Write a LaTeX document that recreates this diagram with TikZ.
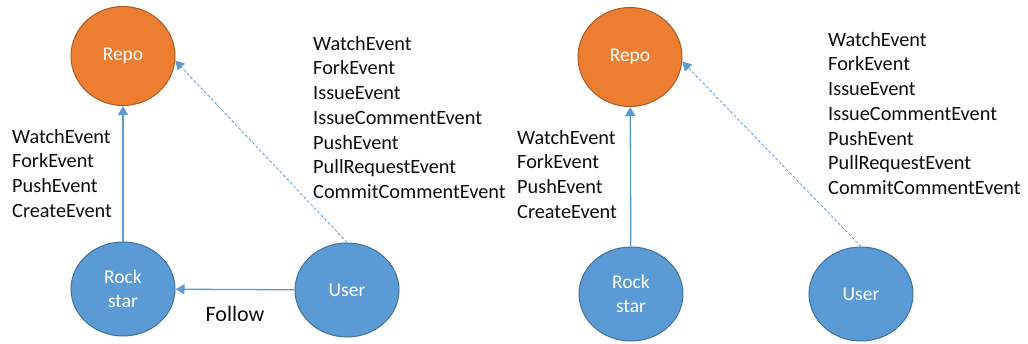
\documentclass[tikz,border=0pt]{standalone}
\usepackage{fontspec}
\setmainfont{Carlito}
\usepackage{tikz}
\usepackage{xcolor}
\usetikzlibrary{arrows.meta, shapes.geometric, positioning}
\definecolor{offorange}{HTML}{ED7D31}
\definecolor{offorangedark}{HTML}{AE5A21}
\definecolor{offblue}{HTML}{5B9BD5}
\definecolor{offbluedark}{HTML}{41719C}
\definecolor{offblack}{HTML}{0D0D0D}
\tikzset{
  repo/.style={ellipse, draw=offorangedark, fill=offorange, line width=1pt, text=white,
    minimum width=104pt, minimum height=99pt, font=\fontsize{19.5}{24}\selectfont},
  member/.style={ellipse, draw=offbluedark, fill=offblue, line width=1pt, text=white, align=center,
    minimum width=104pt, minimum height=94pt, font=\fontsize{19.5}{24}\selectfont},
  events/.style={anchor=north west, align=left, inner sep=0pt, text=offblack,
    font=\fontsize{20.3}{24.7}\selectfont},
  link/.style={-{Triangle[width=10pt,length=9pt]}, draw=offblue, line width=1.3pt},
  dashlink/.style={link, densely dashed, line width=0.8pt}
}

\begin{document}
\begin{tikzpicture}[x=1pt,y=-1pt]
  \useasboundingbox (0,0) rectangle (1028,343);

  % with follow
  \node[repo] (repoA) at (123,56) {Repo};
  \node[member] (rockA) at (123,289) {Rock\\star};
  \node[member] (userA) at (347,290) {User};
  \node[events] (rockevA) at (12,129) {WatchEvent\\ForkEvent\\PushEvent\\CreateEvent};
  \node[events] (userevA) at (313,36) {WatchEvent\\ForkEvent\\IssueEvent\\IssueCommentEvent\\PushEvent\\PullRequestEvent\\CommitCommentEvent};
  \draw[link] (rockA) -- (repoA);
  \draw[link] (userA) -- (rockA) node[midway, below=16pt, inner sep=0pt, text=offblack, font=\fontsize{22}{26}\selectfont] (followA) {Follow};
  \draw[dashlink] (userA.north) -- (repoA.-5);

  % without follow
  \node[repo] (repoB) at (630,57) {Repo};
  \node[member] (rockB) at (631,294) {Rock\\star};
  \node[member] (userB) at (861,294) {User};
  \node[events] (rockevB) at (517,130) {WatchEvent\\ForkEvent\\PushEvent\\CreateEvent};
  \node[events] (userevB) at (828,32) {WatchEvent\\ForkEvent\\IssueEvent\\IssueCommentEvent\\PushEvent\\PullRequestEvent\\CommitCommentEvent};
  \draw[link] (rockB) -- (repoB);
  \draw[dashlink] (userB.north) -- (repoB.-5);
\end{tikzpicture}
\end{document}
